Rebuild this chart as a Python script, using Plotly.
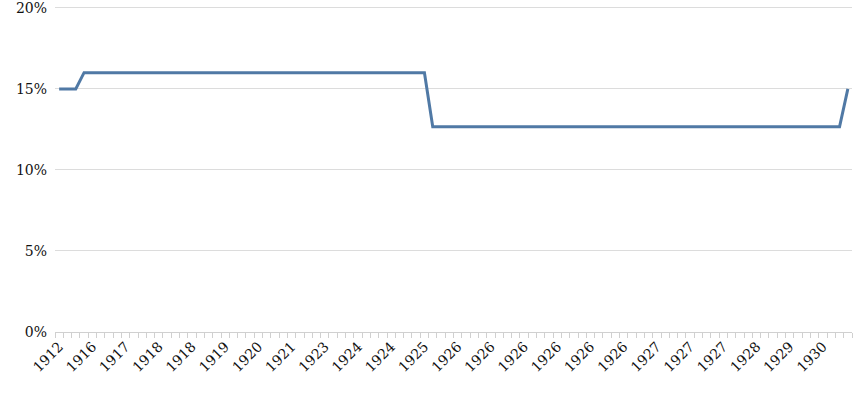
import plotly.graph_objects as go

# rate per period (%), one value per category on the x axis
rate = [
    15, 15, 15, 16, 16, 16, 16, 16, 16, 16,
    16, 16, 16, 16, 16, 16, 16, 16, 16, 16,
    16, 16, 16, 16, 16, 16, 16, 16, 16, 16,
    16, 16, 16, 16, 16, 16, 16, 16, 16, 16,
    16, 16, 16, 16, 16, 12.66, 12.66, 12.66, 12.66, 12.66,
    12.66, 12.66, 12.66, 12.66, 12.66, 12.66, 12.66, 12.66, 12.66, 12.66,
    12.66, 12.66, 12.66, 12.66, 12.66, 12.66, 12.66, 12.66, 12.66, 12.66,
    12.66, 12.66, 12.66, 12.66, 12.66, 12.66, 12.66, 12.66, 12.66, 12.66,
    12.66, 12.66, 12.66, 12.66, 12.66, 12.66, 12.66, 12.66, 12.66, 12.66,
    12.66, 12.66, 12.66, 12.66, 12.66, 15,
]

# labels shown on every 4th category
year_labels = [
    "1912", "1916", "1917", "1918", "1918", "1919", "1920", "1921",
    "1923", "1924", "1924", "1925", "1926", "1926", "1926", "1926",
    "1926", "1926", "1927", "1927", "1927", "1928", "1929", "1930",
]
y_ticks = [0, 5, 10, 15, 20]
y_labels = ["0%", "5%", "10%", "15%", "20%"]

x = list(range(len(rate)))
label_pos = x[::4][:len(year_labels)]

font = "DejaVu Serif"

fig = go.Figure()
fig.add_trace(go.Scatter(
    x=x, y=rate, mode="lines",
    line=dict(color="#5079a5", width=3),
    hoverinfo="skip",
))

fig.update_xaxes(
    range=[-0.5, len(rate) - 0.5],
    tickvals=label_pos, ticktext=year_labels,
    tickangle=-45, ticks="",
    showgrid=False, zeroline=False,
    showline=True, linecolor="#d0d0d0", linewidth=1,
    minor=dict(ticks="outside", tick0=-0.5, dtick=1, ticklen=5,
               tickcolor="#d0d0d0", tickwidth=1, showgrid=False),
    tickfont=dict(family=font, size=14, color="#111"),
)
fig.update_yaxes(
    range=[0, 20.3], tickvals=y_ticks, ticktext=y_labels,
    showgrid=True, gridcolor="#dcdcdc", gridwidth=1,
    zeroline=False, ticks="", ticklabelstandoff=7,
    ticklabeloverflow="allow",
    tickfont=dict(family=font, size=14, color="#111"),
)

fig.update_layout(
    width=868, height=401,
    margin=dict(l=55, r=16, t=3, b=69, autoexpand=False),
    plot_bgcolor="white", paper_bgcolor="white",
    showlegend=False,
)

fig.write_html("out.html", config={"displayModeBar": False},
               post_script="document.body.style.margin='0';")
